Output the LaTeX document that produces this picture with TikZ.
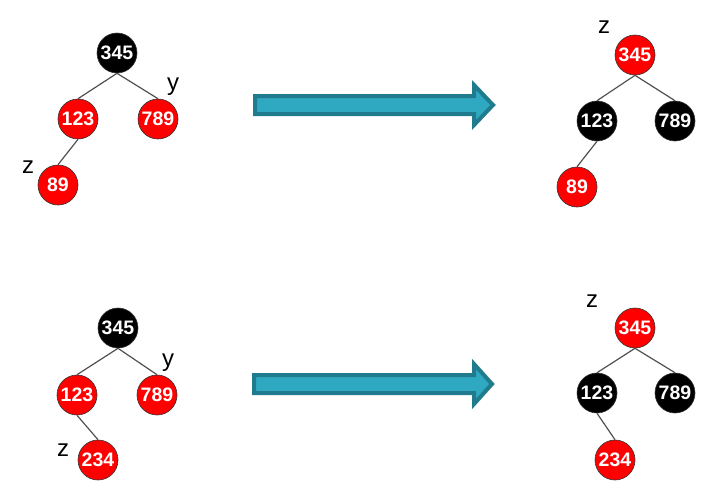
\documentclass[tikz,border=0pt]{standalone}
\usepackage{fontspec}
\setmainfont{Liberation Sans}
\usetikzlibrary{shapes.arrows}
\definecolor{arrfill}{HTML}{2FA8C2}
\definecolor{arrline}{HTML}{217B8E}
\definecolor{edgegray}{HTML}{505050}
\tikzset{
  rb/.style={circle,draw=black!80,line width=0.6pt,minimum size=40pt,inner sep=0pt,
    font=\fontsize{19.5}{19.5}\selectfont\bfseries,text=white},
  rnode/.style={rb,fill=red},
  bnode/.style={rb,fill=black},
  edge/.style={draw=edgegray,line width=1.2pt},
  lbl/.style={font=\fontsize{24}{24}\selectfont,inner sep=0pt},
  bigarrow/.style={fill=arrfill,draw=arrline,line width=4pt,line join=miter}
}
\begin{document}
\begin{tikzpicture}[x=1pt,y=-1pt]
\useasboundingbox (0,0) rectangle (723,498);
% top left
\node[bnode] (a1) at (117,53) {345};
\node[rnode] (a2) at (78,119) {123};
\node[rnode] (a3) at (158,119) {789};
\node[rnode] (a4) at (58,185) {89};
\draw[edge] (a1.south) -- (a2.north);
\draw[edge] (a1.south) -- (a3.north);
\draw[edge] (a2.south) -- (a4.north);
\node[lbl] (ay) at (173,87) {y};
\node[lbl] (az) at (28,167) {z};
% top right
\node[rnode] (b1) at (635,55) {345};
\node[bnode] (b2) at (597,121) {123};
\node[bnode] (b3) at (675,121) {789};
\node[rnode] (b4) at (577,187) {89};
\draw[edge] (b1.south) -- (b2.north);
\draw[edge] (b1.south) -- (b3.north);
\draw[edge] (b2.south) -- (b4.north);
\node[lbl] (bz) at (604,27) {z};
% bottom left
\node[bnode] (c1) at (118,328) {345};
\node[rnode] (c2) at (77,395) {123};
\node[rnode] (c3) at (157,395) {789};
\node[rnode] (c4) at (98,460) {234};
\draw[edge] (c1.south) -- (c2.north);
\draw[edge] (c1.south) -- (c3.north);
\draw[edge] (c2.south) -- (c4.north);
\node[lbl] (cy) at (168,363) {y};
\node[lbl] (cz) at (63,450) {z};
% bottom right
\node[rnode] (d1) at (635,328) {345};
\node[bnode] (d2) at (597,393) {123};
\node[bnode] (d3) at (675,393) {789};
\node[rnode] (d4) at (615,460) {234};
\draw[edge] (d1.south) -- (d2.north);
\draw[edge] (d1.south) -- (d3.north);
\draw[edge] (d2.south) -- (d4.north);
\node[lbl] (dz) at (592,301) {z};
% arrows
\draw[bigarrow] (255,96) -- (474,96) -- (474,85) -- (493,105) -- (474,125) -- (474,114) -- (255,114) -- cycle;
\draw[bigarrow] (254,375) -- (474,375) -- (474,364) -- (492,384) -- (474,404) -- (474,393) -- (254,393) -- cycle;
\end{tikzpicture}
\end{document}
